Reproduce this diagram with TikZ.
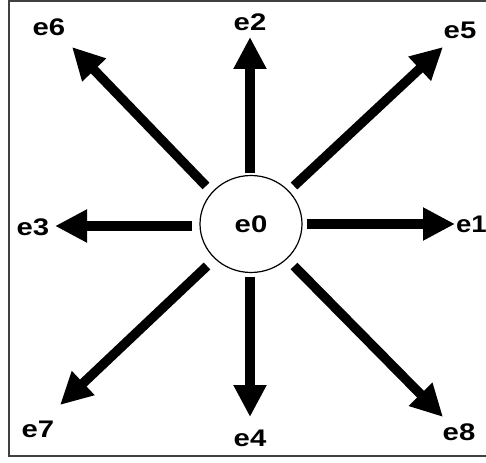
\documentclass[tikz,border=0pt]{standalone}
\usepackage{fontspec}
\setmainfont{Liberation Sans}
\usetikzlibrary{arrows.meta,shapes.geometric}
\begin{document}
\begin{tikzpicture}[x=1pt,y=-1pt,
  lbl/.style={inner sep=0pt, font=\fontsize{24}{24}\selectfont\bfseries},
  ray/.style={line width=9.5pt, -{Triangle[length=32pt,width=31pt]}}]
\useasboundingbox (0,0) rectangle (486,462);
\draw[line width=2pt, draw=black!75] (9,1) rectangle (510,456);
\node[draw, ellipse, minimum width=102pt, minimum height=97pt, line width=1.2pt, lbl] (e0) at (251,224) {\scalebox{1.22}[1]{e0}};
% labels
\node[lbl, anchor=east] (e1) at (487,224) {\scalebox{1.15}[1]{e1}};
\node[lbl] (e2) at (250,22) {\scalebox{1.22}[1]{e2}};
\node[lbl] (e3) at (33,227) {\scalebox{1.22}[1]{e3}};
\node[lbl] (e4) at (250,438) {\scalebox{1.22}[1]{e4}};
\node[lbl] (e5) at (460,30) {\scalebox{1.22}[1]{e5}};
\node[lbl] (e6) at (49,27) {\scalebox{1.22}[1]{e6}};
\node[lbl] (e7) at (38,429) {\scalebox{1.22}[1]{e7}};
\node[lbl] (e8) at (459,432) {\scalebox{1.22}[1]{e8}};
% ray end points
\coordinate (s1) at (307,224); \coordinate (t1) at (455,224);
\coordinate (s2) at (250,173); \coordinate (t2) at (250,37);
\coordinate (s3) at (192,226); \coordinate (t3) at (55,226);
\coordinate (s4) at (250,277); \coordinate (t4) at (250,417);
\coordinate (s5) at (294,186); \coordinate (t5) at (443,47);
\coordinate (s6) at (206,186); \coordinate (t6) at (72,47);
\coordinate (s7) at (207,266); \coordinate (t7) at (60,405);
\coordinate (s8) at (294,266); \coordinate (t8) at (443,417);
\foreach \i in {1,...,8} {\draw[ray] (s\i) -- (t\i);}
\end{tikzpicture}
\end{document}
